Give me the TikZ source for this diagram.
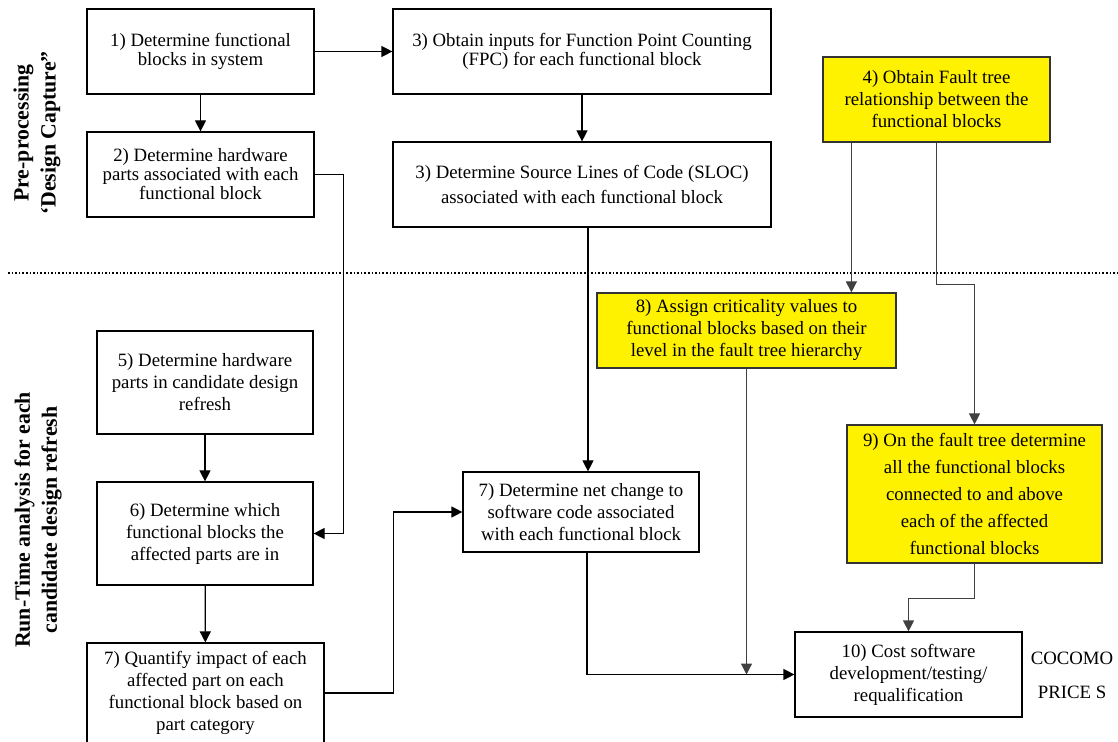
\documentclass[tikz,border=0pt]{standalone}
\usepackage{fontspec}
\setmainfont{Liberation Serif}
\usetikzlibrary{arrows.meta}

\begin{document}
\begin{tikzpicture}[x=0.5pt, y=-0.5pt, >={Triangle[length=5.5pt,width=5.5pt]}, line width=0.6pt,
    blk/.style={draw, align=center, inner sep=2pt, font=\fontsize{9.4}{11}\selectfont},
    hot/.style={blk, fill=yellow, draw=black!80},
    side/.style={rotate=90, align=center, font=\fontsize{10.9}{13.5}\selectfont\bfseries},
    wire/.style={black!75}]
    \useasboundingbox (0,0) rectangle (1118,742);

    % 1. phase split line
    \draw[densely dotted, line width=0.8pt] (8,273) -- (1118,273);

    % 2. phase labels
    \node[side] (pre) at (37,133) {Pre-processing\\‘Design Capture”};
    \node[side] (run) at (38,520) {Run-Time analysis for each\\candidate design refresh};

    % 3. pre-processing boxes
    \node[blk, minimum width=113.5pt, minimum height=42.5pt, font=\fontsize{9.4}{9.5}\selectfont] (b1) at (200.5,51.5)
        {1) Determine functional\\blocks in system};
    \node[blk, minimum width=113.5pt, minimum height=42.5pt, font=\fontsize{9.4}{9.5}\selectfont] (b2) at (200.5,174.5)
        {2) Determine hardware\\parts associated with each\\functional block};
    \node[blk, minimum width=189pt, minimum height=42.5pt, font=\fontsize{9.4}{9.5}\selectfont] (b3a) at (582,51.5)
        {3) Obtain inputs for Function Point Counting\\(FPC) for each functional block};
    \node[blk, minimum width=189pt, minimum height=42.5pt, font=\fontsize{9.4}{12.5}\selectfont] (b3b) at (582,184.5)
        {3) Determine Source Lines of Code (SLOC)\\associated with each functional block};
    \node[hot, minimum width=113.5pt, minimum height=42.5pt] (b4) at (936.5,99.5)
        {4) Obtain Fault tree\\relationship between the\\functional blocks};

    % 4. run-time boxes
    \node[blk, minimum width=108pt, minimum height=51.5pt] (b5) at (205,382.5)
        {5) Determine hardware\\parts in candidate design\\refresh};
    \node[blk, minimum width=108pt, minimum height=51.5pt] (b6) at (205,533.5)
        {6) Determine which\\functional blocks the\\affected parts are in};
    \node[blk, minimum width=118.5pt, minimum height=50pt] (b7a) at (205.5,693)
        {7) Quantify impact of each\\affected part on each\\functional block based on\\part category};
    \node[blk, minimum width=118pt, minimum height=40pt] (b7b) at (581,512)
        {7) Determine net change to\\software code associated\\with each functional block};
    \node[hot, minimum width=149.5pt, minimum height=37.5pt] (b8) at (746.5,330.5)
        {8) Assign criticality values to\\functional blocks based on their\\level in the fault tree hierarchy};
    \node[hot, minimum width=127.5pt, minimum height=69pt, font=\fontsize{9.4}{13.5}\selectfont] (b9) at (974.5,494)
        {9) On the fault tree determine\\all the functional blocks\\connected to and above\\each of the affected\\functional blocks};
    \node[blk, minimum width=113.5pt, minimum height=42.5pt] (b10) at (908.5,674.5)
        {10) Cost software\\development/testing/\\requalification};
    \node[align=center, font=\fontsize{9.4}{17}\selectfont] (cost) at (1072,675) {COCOMO\\PRICE S};

    % 5. connectors
    \draw[->] (b1) -- (b3a);
    \draw[->] (b1) -- (b2);
    \draw[->] (b3a) -- (b3b);
    \draw[->] (b2.east) -- ++(29,0) |- (b6.east);
    \draw[->] (b5) -- (b6);
    \draw[->] (b6) -- (b7a);
    \draw[->] (b7a.east) -- ++(69,0) |- (b7b.west);
    \draw[->] ([xshift=3pt]b3b.south) -- ([xshift=3pt]b3b.south |- b7b.north);
    \draw[->, wire] ([xshift=14.5pt]b4.south west) -- ([xshift=14.5pt]b4.south west |- b8.north);
    \draw[->, wire] (b4.south) -- ++(0,142) -| (b9.north);
    \coordinate (join) at (b8.south |- b10.west);
    \draw[->] ([xshift=3pt]b7b.south) |- (b10.west);
    \draw[->, wire] (b8.south) -- (join);
    \draw[->, wire] (b9.south) -- ++(0,35) -| (b10.north);
\end{tikzpicture}
\end{document}
